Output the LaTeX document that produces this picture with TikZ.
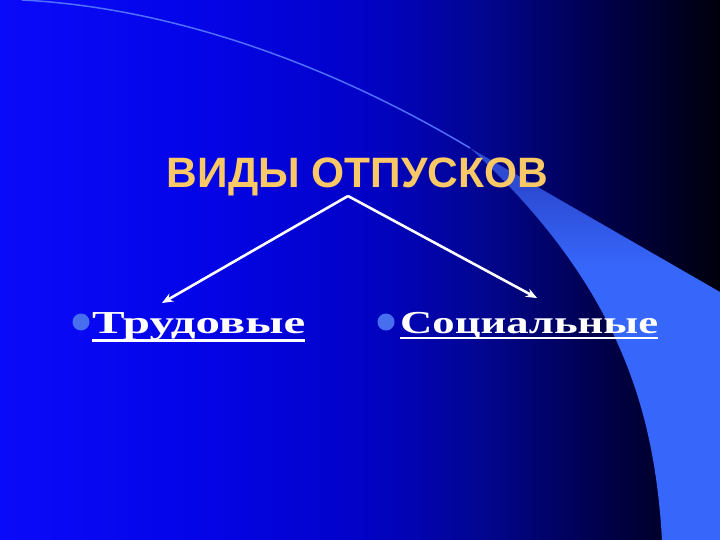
\documentclass[tikz,border=0pt]{standalone}
\usepackage{fontspec}
\setmainfont{Liberation Serif}
\newfontfamily\titlefont{Liberation Sans}
\newfontfamily\labelfont{Liberation Serif}
\usetikzlibrary{arrows.meta}
\definecolor{c0}{RGB}{10,10,250}
\definecolor{c1}{RGB}{4,4,232}
\definecolor{c2}{RGB}{2,2,200}
\definecolor{c3}{RGB}{2,6,145}
\definecolor{c4}{RGB}{0,0,75}
\definecolor{c5}{RGB}{0,0,12}
\definecolor{bandlight}{RGB}{54,102,250}
\definecolor{bandmid}{RGB}{44,74,210}
\definecolor{arcline}{RGB}{80,110,255}
\definecolor{titlecol}{RGB}{250,200,100}
\definecolor{bulletcol}{RGB}{72,110,240}
\pgfdeclarehorizontalshading{bgshade}{100bp}{color(0bp)=(c0); color(25bp)=(c0); color(38.9bp)=(c1); color(50bp)=(c2); color(58.3bp)=(c3); color(66.7bp)=(c4); color(75bp)=(c5); color(100bp)=(c5)}
\pgfdeclareverticalshading{bandshade}{100bp}{color(0bp)=(bandlight); color(25bp)=(bandlight); color(60bp)=(bandlight); color(70bp)=(bandmid); color(75bp)=(bandmid); color(100bp)=(bandmid)}
\tikzset{
  arrowline/.style={draw=white, line width=2.6pt, -{Stealth[length=11pt,width=9pt]}},
  labeltext/.style={text=white, inner sep=0pt, anchor=base west, font=\labelfont\bfseries\fontsize{32}{36}\selectfont},
  uline/.style={draw=white, line width=2.4pt},
  bulletdot/.style={circle, fill=bulletcol, minimum size=17pt, inner sep=0pt},
  titletext/.style={inner sep=0pt, anchor=base, text=titlecol, font=\titlefont\bfseries\fontsize{42.5}{48}\selectfont}
}
\begin{document}
\begin{tikzpicture}[x=1pt,y=-1pt]
\useasboundingbox (0,0) rectangle (720,540);
% background
\shade[shading=bgshade] (0,0) rectangle (720,540);
% swoosh band
\shade[shading=bandshade] (470,148) -- (720,292) -- (720,540) -- (662,540)
  .. controls (655,420) and (625,290) .. (470,148) -- cycle;
% thin arc
\draw[arcline, line width=1.5pt] (22,0) .. controls (180,8) and (340,70) .. (470,148);
% title
\node[titletext] (title) at (357.5,188) {ВИДЫ ОТПУСКОВ};
% labels
\node[bulletdot] (b1) at (81,322) {};
\node[labeltext] (lab1) at (92,333) {\resizebox{213pt}{\height}{Трудовые}};
\node[bulletdot] (b2) at (386,322) {};
\node[labeltext] (lab2) at (400,333) {\resizebox{258pt}{\height}{Социальные}};
\draw[uline] ([yshift=-7.5pt]lab1.base west) -- ([yshift=-7.5pt]lab1.base east);
\draw[uline] ([yshift=-5pt]lab2.base west) -- ([yshift=-5pt]lab2.base east);
% arrows
\coordinate (apex) at (348,196);
\coordinate (tip1) at (162,303);
\coordinate (tip2) at (537,298);
\draw[arrowline] (apex) -- (tip1);
\draw[arrowline] (apex) -- (tip2);
\end{tikzpicture}
\end{document}
